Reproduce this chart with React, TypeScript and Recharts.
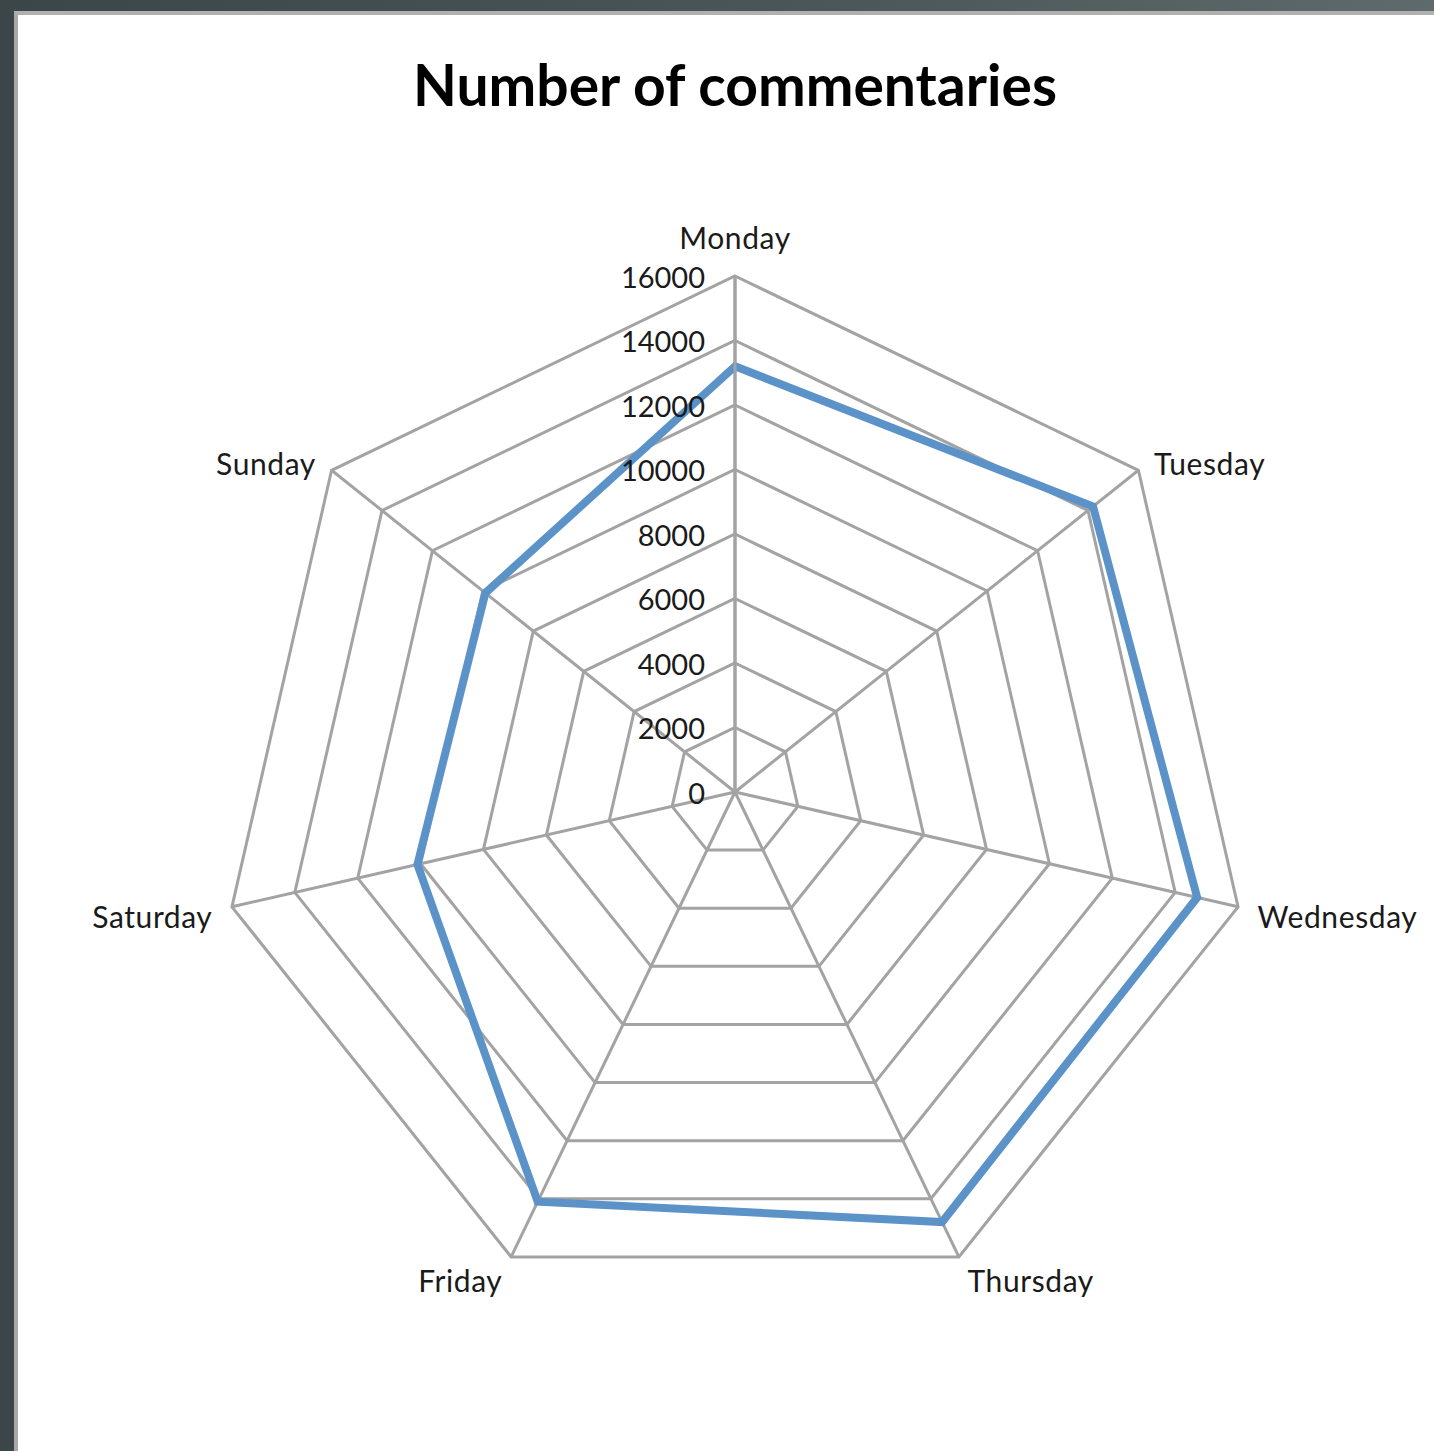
import React from 'react';
import { RadarChart, Radar, PolarGrid, PolarAngleAxis, PolarRadiusAxis } from 'recharts';

const days = ['Monday', 'Tuesday', 'Wednesday', 'Thursday', 'Friday', 'Saturday', 'Sunday'];
const commentaries = [13200, 14200, 14700, 14800, 14100, 10100, 9900];
const radiusTicks = [0, 2000, 4000, 6000, 8000, 10000, 12000, 14000, 16000];

const data = days.map((day, i) => ({ day, total: commentaries[i] }));

const CX = 735;
const CY = 792;
const FONT = 'Lato, "Open Sans", sans-serif';

const DayTick = (props: any) => {
  const { x, y, payload, textAnchor } = props;
  const dy = textAnchor === 'middle' && y < CY ? -19 : 5;
  return (
    <text x={x} y={y + dy} textAnchor={textAnchor} dominantBaseline="central"
      fontFamily={FONT} fontSize={30} letterSpacing={0.6} fill="#1a1a1a">
      {payload.value}
    </text>
  );
};

const ValueTick = (props: any) => {
  const { x, y, payload } = props;
  return (
    <text x={x - 30} y={y} textAnchor="end" dominantBaseline="central"
      fontFamily={FONT} fontSize={29} fill="#1a1a1a">
      {payload.value}
    </text>
  );
};

export default function App() {
  return (
    <div style={{ position: 'fixed', left: 0, top: 0, width: 1434, height: 1451, background: 'linear-gradient(90deg, #3c4547, #4d5759 60%, #5e6a6b)' }}>
      <div style={{ position: 'absolute', left: 14, top: 11, right: 0, bottom: 0, background: '#fff', borderLeft: '4px solid #a9a9a9', borderTop: '4px solid #b0b0b0' }} />
      <div style={{ position: 'absolute', left: 0, top: 0 }}>
        <RadarChart width={1434} height={1451} data={data} cx={CX} cy={CY} outerRadius={516}
          margin={{ top: 0, right: 0, bottom: 0, left: 0 }}>
          <PolarGrid gridType="polygon" stroke="#a3a3a3" strokeWidth={3} />
          <PolarAngleAxis dataKey="day" tick={DayTick} tickLine={false} tickSize={20} axisLine={false} />
          <PolarRadiusAxis angle={90} domain={[0, 16000]} ticks={radiusTicks as any} tickCount={9}
            tick={ValueTick} axisLine={{ stroke: '#a3a3a3', strokeWidth: 3 }} />
          <Radar dataKey="total" stroke="#5b93c9" strokeWidth={8} fill="none" fillOpacity={0}
            dot={false} isAnimationActive={false} />
        </RadarChart>
      </div>
      <div style={{ position: 'absolute', left: 0, width: 1470, top: 50, textAlign: 'center', fontFamily: FONT, fontWeight: 700, fontSize: 57, color: '#000', lineHeight: '68px' }}>
        Number of commentaries
      </div>
    </div>
  );
}
